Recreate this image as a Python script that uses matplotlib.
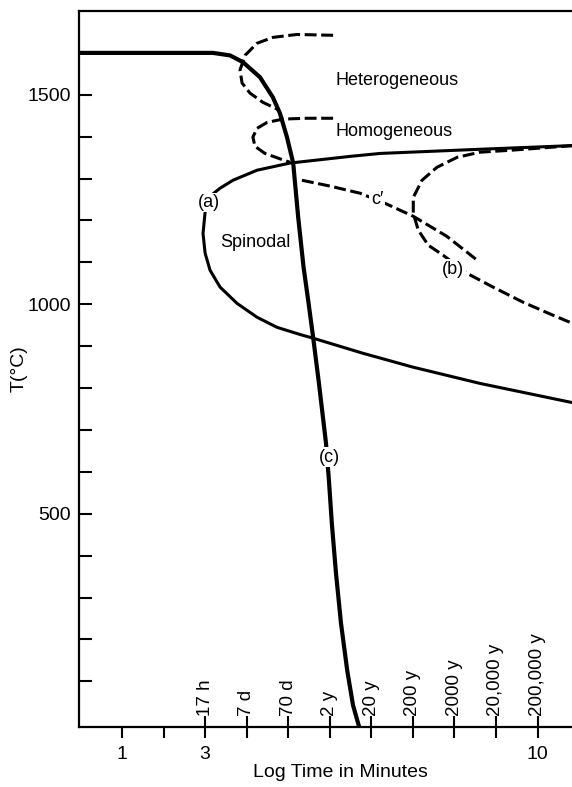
import matplotlib.pyplot as plt
import numpy as np

plt.rcParams['font.family'] = ['Liberation Sans', 'DejaVu Sans']

# log time (minutes) / temperature (deg C)
cool_logt = [0.0, 2.88, 3.19, 3.60, 3.91, 4.32, 4.63, 4.80, 4.97, 5.12, 5.24,
             5.37, 5.48, 5.60, 5.74, 5.91, 5.98, 6.05, 6.15, 6.27, 6.42, 6.56,
             6.73]
cool_T = [1600, 1600, 1600, 1594, 1578, 1542, 1494, 1456, 1399, 1337, 1208,
          1088, 1010, 921, 811, 668, 580, 477, 358, 239, 126, 43, -17]

spin_logt = [11.90, 9.62, 7.21, 6.49, 5.04, 4.25, 3.67, 3.36, 3.12, 3.00, 2.95,
             3.00, 3.12, 3.36, 3.77, 4.25, 4.73, 5.28, 5.60, 6.80, 8.00, 9.62,
             11.90]
spin_T = [1379, 1370, 1360, 1353, 1337, 1320, 1296, 1277, 1258, 1220, 1169,
          1122, 1081, 1041, 1002, 969, 945, 928, 919, 883, 850, 811, 764]

het_logt = [6.08, 5.21, 4.63, 4.25, 3.96, 3.84, 3.89, 4.08, 4.39, 4.75]
het_T = [1642, 1644, 1637, 1623, 1594, 1559, 1528, 1504, 1482, 1465]

hom_logt = [6.08, 5.45, 4.87, 4.49, 4.25, 4.15, 4.20, 4.44, 4.75, 5.04]
hom_T = [1444, 1444, 1442, 1434, 1420, 1399, 1377, 1360, 1349, 1339]

cprime_logt = [5.33, 6.01, 6.73, 7.33, 8.01, 8.82, 9.55]
cprime_T = [1296, 1282, 1265, 1241, 1210, 1162, 1105]

b_logt = [11.90, 10.41, 9.62, 9.07, 8.58, 8.22, 8.01, 8.01, 8.13, 8.37, 8.73,
          9.30, 9.93, 10.65, 11.37, 11.90]
b_T = [1379, 1368, 1363, 1351, 1327, 1296, 1255, 1217, 1177, 1141, 1117,
       1074, 1041, 1005, 974, 952]

time_pos = [3, 4, 5, 6, 7, 8, 9, 10, 11]
time_labels = ['17 h', '7 d', '70 d', '2 y', '20 y', '200 y', '2000 y',
               '20,000 y', '200,000 y']
x_ticks = list(range(1, 12))
x_labels = ['1', '', '3', '', '', '', '', '', '', '', '10']

fig = plt.figure(figsize=(5.72, 7.87), dpi=100)
ax = fig.add_axes([79 / 572, 60 / 787, 1 - 79 / 572, 716 / 787])

dash = dict(color='black', lw=2.2, ls=(0, (3.9, 1.5)), solid_capstyle='butt')
ax.plot(cool_logt, cool_T, color='black', lw=3.0, solid_joinstyle='round')
ax.plot(spin_logt, spin_T, color='black', lw=2.2, solid_joinstyle='round')
ax.plot(het_logt, het_T, **dash)
ax.plot(hom_logt, hom_T, **dash)
ax.plot(cprime_logt, cprime_T, **dash)
ax.plot(b_logt, b_T, **dash)

box = dict(facecolor='white', edgecolor='none', pad=1)
ax.text(6.13, 1535, 'Heterogeneous', fontsize=13, va='center')
ax.text(6.13, 1413, 'Homogeneous', fontsize=13, va='center')
ax.text(3.36, 1148, 'Spinodal', fontsize=13, va='center')
ax.text(3.09, 1243, '(a)', fontsize=13, ha='center', va='center', bbox=box, zorder=5)
ax.text(8.97, 1084, '(b)', fontsize=13, ha='center', va='center', bbox=box, zorder=5)
ax.text(6.0, 635, '(c)', fontsize=13, ha='center', va='center', bbox=box, zorder=5)
ax.text(7.14, 1251, 'c\u2032', fontsize=13, ha='center', va='center', bbox=box, zorder=5)

ax.set_xlim(-0.035, 11.83)
ax.set_ylim(-9, 1700)

ax.set_xticks(x_ticks, x_labels)
ax.tick_params(axis='x', direction='out', length=8, width=1.5, pad=6, labelsize=14)
ax.set_yticks([500, 1000, 1500])
ax.set_yticks([t for t in range(100, 1700, 100) if t % 500], minor=True)
ax.tick_params(axis='y', which='both', direction='in', length=9, width=1.5,
               pad=6, labelsize=14)

# elapsed-time scale sitting on the bottom axis
sec = ax.secondary_xaxis(0.0)
sec.set_alignment('top')
sec.set_xticks(time_pos, time_labels)
sec.tick_params(direction='out', length=8, width=1.5, pad=0, labelsize=13.5,
                labelrotation=90)
sec.spines['top'].set_visible(False)

for s in ['left', 'bottom', 'top']:
    ax.spines[s].set_linewidth(1.6)
ax.spines['right'].set_visible(False)

ax.set_ylabel('T(°C)', fontsize=14)
ax.yaxis.set_label_coords(-0.105, 0.5)
ax.set_xlabel('Log Time in Minutes', fontsize=14)
ax.xaxis.set_label_coords(0.531, -0.052)

fig.savefig('out.png', dpi=100)
